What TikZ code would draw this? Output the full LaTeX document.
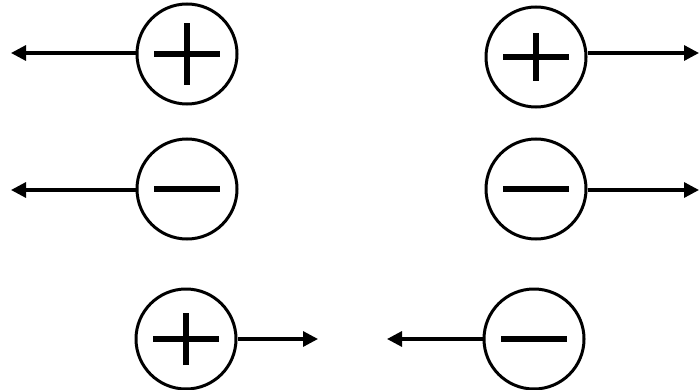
\documentclass[tikz,border=0pt]{standalone}
\usetikzlibrary{arrows.meta}
\begin{document}
\begin{tikzpicture}[x=1pt,y=-1pt,
  charge/.style={circle,draw,line width=3pt,minimum size=100pt,inner sep=0pt},
  plusq/.style={charge,path picture={
      \draw[line width=6.5pt] ([xshift=-33pt]path picture bounding box.center)
        -- ([xshift=33pt]path picture bounding box.center);
      \draw[line width=6.5pt] ([yshift=-#1]path picture bounding box.center)
        -- ([yshift=#1]path picture bounding box.center);}},
  minusq/.style={charge,path picture={
      \draw[line width=6.5pt] ([xshift=-33pt]path picture bounding box.center)
        -- ([xshift=33pt]path picture bounding box.center);}},
  field/.style={line width=3.2pt,-{Triangle[length=15pt,width=15pt]}}]
  \useasboundingbox (0,0) rectangle (700,390);
  % charges
  \node[plusq=31pt] (pTL) at (187,54) {};
  \node[plusq=24pt] (pTR) at (536,57) {};
  \node[minusq] (mML) at (187,189) {};
  \node[minusq] (mMR) at (536,189) {};
  \node[plusq=26pt] (pBL) at (186,339) {};
  \node[minusq] (mBR) at (534,339) {};
  % arrow ends
  \coordinate (eTL) at (11,53);
  \coordinate (eTR) at (699,53);
  \coordinate (eML) at (11,190);
  \coordinate (eMR) at (699,190);
  \coordinate (eBL) at (318,339);
  \coordinate (eBR) at (387,339);
  % field lines
  \draw[field] (pTL.west |- eTL) -- (eTL);
  \draw[field] (pTR.east |- eTR) -- (eTR);
  \draw[field] (mML.west |- eML) -- (eML);
  \draw[field] (mMR.east |- eMR) -- (eMR);
  \draw[field] (pBL.east) -- (eBL);
  \draw[field] (mBR.west) -- (eBR);
\end{tikzpicture}
\end{document}
